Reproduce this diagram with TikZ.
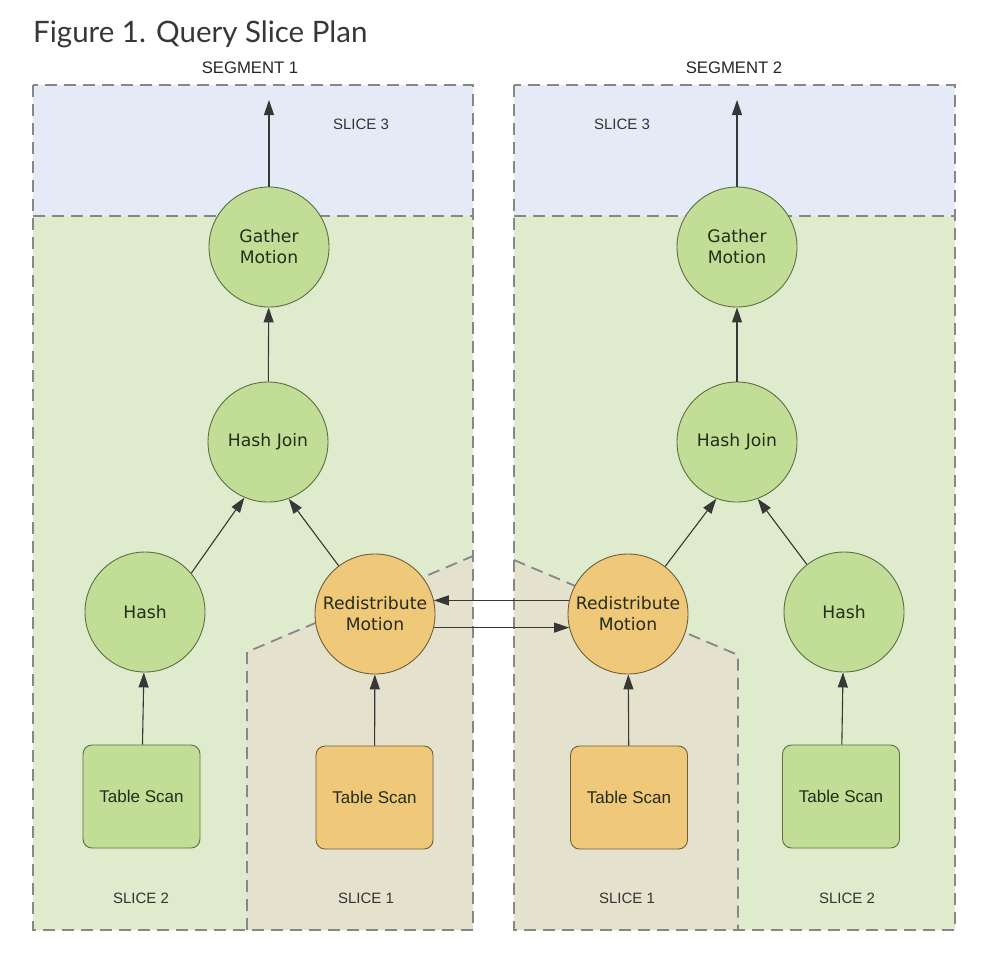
\documentclass[tikz,border=0pt]{standalone}
\usepackage{fontspec}
\setmainfont{Liberation Sans}
\newfontfamily\titlefont{Lato}
\newfontfamily\verd{DejaVu Sans}
\usetikzlibrary{arrows.meta}
\definecolor{bluefill}{RGB}{229,235,246}
\definecolor{greenbg}{RGB}{222,235,204}
\definecolor{beigebg}{RGB}{228,226,204}
\definecolor{gnode}{RGB}{194,221,150}
\definecolor{onode}{RGB}{240,200,122}
\definecolor{gline}{RGB}{95,110,70}
\definecolor{oline}{RGB}{110,95,60}
\definecolor{dashgray}{RGB}{135,135,135}
\definecolor{arrgray}{RGB}{55,55,55}
\definecolor{txtdark}{RGB}{35,45,25}
\definecolor{titlegray}{RGB}{55,55,55}
\begin{document}
\begin{tikzpicture}[x=1pt,y=-1pt,
  dashb/.style={draw=dashgray, line width=1.8pt, dash pattern=on 12pt off 7pt},
  circ/.style={circle, minimum size=120pt, inner sep=0pt, line width=0.9pt, align=center,
    text=txtdark, font=\verd\fontsize{17.2}{21}\selectfont},
  gc/.style={circ, fill=gnode, draw=gline},
  oc/.style={circ, fill=onode, draw=oline},
  tbox/.style={rectangle, rounded corners=9pt, minimum width=117pt, minimum height=103pt,
    inner sep=0pt, line width=0.9pt, text=txtdark, font=\fontsize{17}{20}\selectfont},
  gb/.style={tbox, fill=gnode, draw=gline},
  ob/.style={tbox, fill=onode, draw=oline},
  lbl/.style={text=black!80, font=\fontsize{15}{17}\selectfont, inner sep=0pt},
  seglbl/.style={text=black!85, font=\fontsize{16.7}{18}\selectfont, inner sep=0pt},
  arr/.style={draw=arrgray, line width=1.1pt, -{Triangle[length=15pt,width=10pt]}},
]
\useasboundingbox (0,0) rectangle (984,966);
\fill[white] (0,0) rectangle (984,966);

% title
\node[anchor=base west, inner sep=0pt, text=titlegray, font=\titlefont\fontsize{29.5}{34}\selectfont] (title) at (33,42) {Figure 1. Query Slice Plan};

% ---------- Segment 1 regions
\fill[bluefill] (33,85) rectangle (473,216);
\fill[greenbg] (33,216) rectangle (473,930);
\fill[beigebg] (247,930) -- (247,652) -- (473,556) -- (473,930) -- cycle;
\draw[dashb] (247,930) -- (247,652) -- (473,556);
\draw[dashb] (33,216) -- (473,216);
\draw[dashb] (33,85) rectangle (473,930);

% ---------- Segment 2 regions
\fill[bluefill] (514,85) rectangle (955,216);
\fill[greenbg] (514,216) rectangle (955,930);
\fill[beigebg] (514,930) -- (514,560) -- (738,655) -- (738,930) -- cycle;
\draw[dashb] (514,560) -- (738,655) -- (738,930);
\draw[dashb] (514,216) -- (955,216);
\draw[dashb] (514,85) rectangle (955,930);

% labels
\node[seglbl] (seg1) at (250,68) {SEGMENT 1};
\node[seglbl] (seg2) at (734,68) {SEGMENT 2};
\node[lbl] (s3a) at (361,124) {SLICE 3};
\node[lbl] (s3b) at (622,124) {SLICE 3};
\node[lbl] (s2a) at (141,898) {SLICE 2};
\node[lbl] (s1a) at (366,898) {SLICE 1};
\node[lbl] (s1b) at (627,898) {SLICE 1};
\node[lbl] (s2b) at (847,898) {SLICE 2};

% ---------- nodes segment 1
\node[gc] (gmL) at (269,247) {Gather\\Motion};
\node[gc] (hjL) at (268,442) {Hash Join};
\node[gc] (hL) at (145,612) {Hash};
\node[oc] (rmL) at (375,614) {Redistribute\\Motion};
\node[gb] (tsL1) at (141.5,796.5) {Table Scan};
\node[ob] (tsL2) at (374.5,797.5) {Table Scan};

% ---------- nodes segment 2
\node[gc] (gmR) at (737,247) {Gather\\Motion};
\node[gc] (hjR) at (737,442) {Hash Join};
\node[oc] (rmR) at (628,614) {Redistribute\\Motion};
\node[gc] (hR) at (844,612) {Hash};
\node[ob] (tsR1) at (629,797.5) {Table Scan};
\node[gb] (tsR2) at (841,796.5) {Table Scan};

\coordinate (outL) at (269,100);
\coordinate (outR) at (737,100);

% ---------- connectors segment 1
\draw[arr] (gmL) -- (outL);
\draw[arr] (hjL) -- (gmL);
\draw[arr] (hL.40) -- (hjL.247);
\draw[arr] (rmL.127) -- (hjL.290);
\draw[arr] (tsL1) -- (hL);
\draw[arr] (tsL2) -- (rmL);

% ---------- connectors segment 2
\draw[arr] (gmR) -- (outR);
\draw[arr] (hjR) -- (gmR);
\draw[arr] (rmR.52) -- (hjR.250);
\draw[arr] (hR.128) -- (hjR.290);
\draw[arr] (tsR1) -- (rmR);
\draw[arr] (tsR2) -- (hR);

% ---------- redistribution exchange
\draw[arr] (rmR.167) -- (rmL.13);
\draw[arr] (rmL.-13) -- (rmR.193);
\end{tikzpicture}
\end{document}
